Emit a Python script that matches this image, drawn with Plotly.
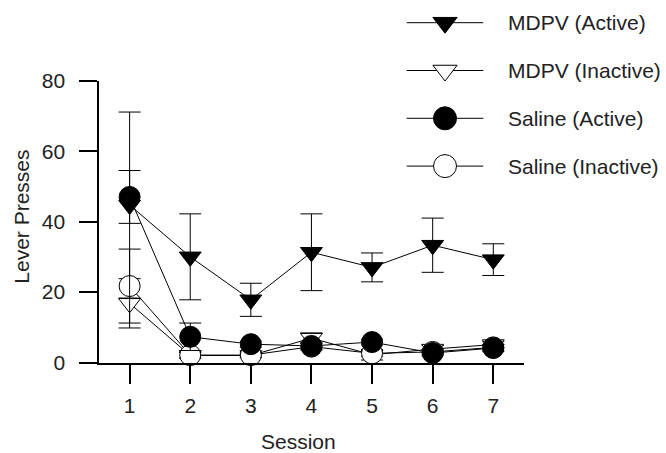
import plotly.graph_objects as go

# ---- data ----
sessions = [1, 2, 3, 4, 5, 6, 7]
series_names = ["MDPV (Active)", "MDPV (Inactive)", "Saline (Active)", "Saline (Inactive)"]

mdpv_active = [44.7, 30.0, 17.8, 31.3, 27.0, 33.3, 29.2]
mdpv_active_sem = [26.4, 12.2, 4.7, 10.9, 4.1, 7.7, 4.5]

mdpv_inactive = [16.8, 2.0, 2.0, 6.9, 2.2, 3.8, 5.1]
mdpv_inactive_sem = [7.0, 0.8, 0.6, 1.5, 1.5, 1.0, 0.8]

saline_active = [47.0, 7.3, 5.2, 4.7, 5.8, 2.7, 4.1]
saline_active_sem = [7.5, 3.9, 0.8, 1.0, 0.8, 0.8, 1.0]

saline_inactive = [21.7, 2.1, 2.1, 4.5, 2.6, 3.0, 4.3]
saline_inactive_sem = [10.5, 0.8, 0.6, 1.0, 0.8, 0.7, 0.8]

y_ticks = [0, 20, 40, 60, 80]

FONT = "Liberation Sans, Arial, sans-serif"
TXT = "#222222"
W, H = 666, 453

styles = {
    "MDPV (Active)": dict(symbol="triangle-down", color="black", size=19),
    "MDPV (Inactive)": dict(symbol="triangle-down", color="white", size=19),
    "Saline (Active)": dict(symbol="circle", color="black", size=21),
    "Saline (Inactive)": dict(symbol="circle", color="white", size=21),
}
values = {
    "MDPV (Active)": (mdpv_active, mdpv_active_sem),
    "MDPV (Inactive)": (mdpv_inactive, mdpv_inactive_sem),
    "Saline (Active)": (saline_active, saline_active_sem),
    "Saline (Inactive)": (saline_inactive, saline_inactive_sem),
}
draw_order = ["MDPV (Inactive)", "Saline (Inactive)", "MDPV (Active)", "Saline (Active)"]

fig = go.Figure()
for name in draw_order:
    y, e = values[name]
    st = styles[name]
    fig.add_trace(go.Scatter(
        x=sessions, y=y, name=name, mode="lines+markers",
        line=dict(color="black", width=1),
        marker=dict(symbol=st["symbol"], size=st["size"], color=st["color"],
                    line=dict(color="black", width=1)),
        error_y=dict(type="data", array=e, visible=True, color="black",
                     thickness=1, width=11),
        cliponaxis=False, showlegend=False, xaxis="x", yaxis="y",
    ))

# ---- custom legend (drawn in a pixel-space overlay axis) ----
leg_x0, leg_x1, leg_xm, leg_tx = 406.7, 483.3, 445, 506
leg_y0, leg_dy = 22.7, 47.8
for i, name in enumerate(series_names):
    st = styles[name]
    ry = leg_y0 + i * leg_dy
    fig.add_trace(go.Scatter(
        x=[leg_x0, leg_x1], y=[ry, ry], mode="lines",
        line=dict(color="black", width=1), showlegend=False,
        xaxis="x2", yaxis="y2", hoverinfo="skip", cliponaxis=False))
    fig.add_trace(go.Scatter(
        x=[leg_xm], y=[ry], mode="markers",
        marker=dict(symbol=st["symbol"], size=st["size"] + 2, color=st["color"],
                    line=dict(color="black", width=1)),
        showlegend=False, xaxis="x2", yaxis="y2", hoverinfo="skip", cliponaxis=False))
    fig.add_annotation(x=leg_tx / W, y=1 - ry / H, xref="paper", yref="paper", text=name,
                       showarrow=False, xanchor="left", yanchor="middle",
                       font=dict(family=FONT, size=21, color=TXT))

# axis titles
fig.add_annotation(x=298 / W, y=1 - 441.5 / H, xref="paper", yref="paper", text="Session",
                   showarrow=False, xanchor="center", yanchor="middle",
                   font=dict(family=FONT, size=21, color=TXT))
fig.add_annotation(x=22 / W, y=1 - 216.7 / H, xref="paper", yref="paper", text="Lever Presses",
                   showarrow=False, xanchor="center", yanchor="middle", textangle=-90,
                   font=dict(family=FONT, size=21, color=TXT))

fig.update_layout(
    width=W, height=H,
    margin=dict(l=0, r=0, t=0, b=0, pad=0, autoexpand=False),
    paper_bgcolor="white", plot_bgcolor="rgba(0,0,0,0)",
    font=dict(family=FONT, size=21, color=TXT),
    xaxis=dict(domain=[99.3 / W, 523.6 / W], range=[0.5, 7.5],
               tickvals=sessions, ticktext=[str(s) for s in sessions],
               ticks="outside", ticklen=19, tickwidth=2, tickcolor="black",
               showline=True, linecolor="black", linewidth=2,
               showgrid=False, zeroline=False, anchor="y", automargin=False,
               ticklabelstandoff=4, tickfont=dict(family=FONT, size=21, color=TXT)),
    yaxis=dict(domain=[1 - 362.5 / H, 1 - 80.7 / H], range=[0, 80],
               tickvals=y_ticks, ticks="outside", ticklen=18, tickwidth=2,
               tickcolor="black", showline=True, linecolor="black", linewidth=2,
               showgrid=False, zeroline=False, anchor="x", automargin=False,
               ticklabelstandoff=10, tickfont=dict(family=FONT, size=21, color=TXT)),
    xaxis2=dict(domain=[0, 1], range=[0, W], visible=False, anchor="y2",
                fixedrange=True, automargin=False),
    yaxis2=dict(domain=[0, 1], range=[H, 0], visible=False, anchor="x2",
                fixedrange=True, automargin=False),
)

fig.write_html(
    "out.html",
    config={"displayModeBar": False},
    post_script="document.body.style.margin='0';document.body.style.padding='0';"
                "document.body.style.overflow='hidden';",
)
